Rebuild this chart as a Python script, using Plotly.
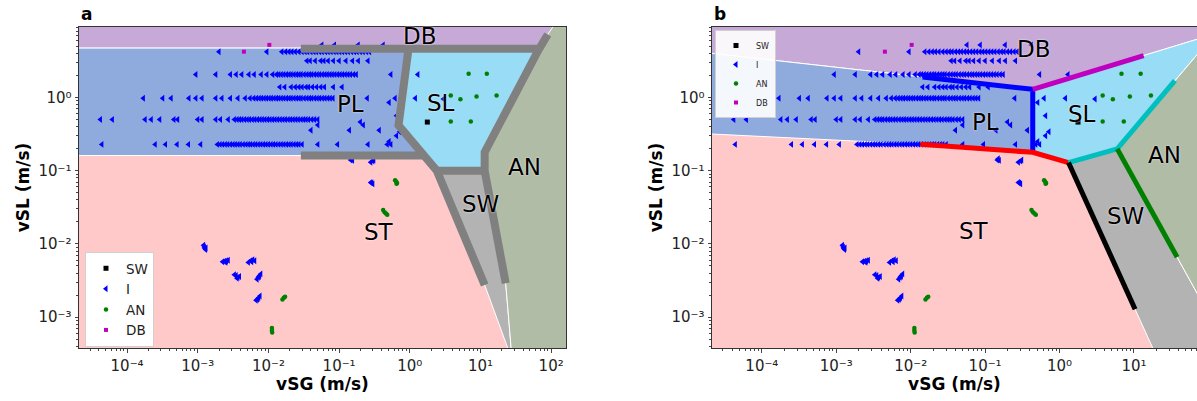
import math
import plotly.graph_objects as go

FONT = "DejaVu Sans"

# ---------------- measured points (vSG, vSL in m/s) ----------------
# intermittent ("I") points lie in rows of nearly constant vSL
i_vsl_rows = [5.2, 4.2, 3.15, 2.05, 1.38, 0.97, 0.50, 0.228]
i_vsg_r1 = [0.057, 0.086, 0.186, 0.42]
i_vsg_r2 = [2.0e-3, 9.5e-3, 0.0155, 0.0175, 0.0195, 0.0215, 0.024, 0.027, 0.030, 0.033, 0.036,
            0.040, 0.044, 0.048, 0.053, 0.058, 0.064, 0.070, 0.077, 0.085, 0.093, 0.102, 0.112,
            0.123, 0.135, 0.15, 0.165, 0.18, 0.20, 0.22, 0.245, 0.27]
i_vsg_r3 = [0.035, 0.039, 0.046, 0.055, 0.061, 0.070, 0.083, 0.10, 0.125, 0.155, 0.187, 0.256]
i_vsg_r4 = [9.4e-4, 1.8e-3, 2.9e-3, 3.5e-3, 4.2e-3, 5.3e-3, 6.3e-3, 7.9e-3, 9.5e-3, 0.0115,
            0.013, 0.014, 0.0152, 0.0165, 0.018, 0.0195, 0.021, 0.023, 0.025, 0.027, 0.029,
            0.032, 0.035, 0.038, 0.041, 0.045, 0.049, 0.053, 0.058, 0.063, 0.068, 0.074, 0.080,
            0.087, 0.095, 0.103, 0.112, 0.122, 0.133, 0.145, 0.16, 0.175, 0.54, 1.3]
i_vsg_r5 = [0.0145, 0.017, 0.021, 0.024, 0.027, 0.030, 0.034, 0.037, 0.042, 0.048, 0.055,
            0.062, 0.083, 0.11]
i_vsg_r6 = [1.7e-4, 3.2e-4, 4.2e-4, 7.5e-4, 9.4e-4, 1.15e-3, 1.8e-3, 2.2e-3, 2.9e-3, 3.7e-3,
            4.7e-3, 5.5e-3, 6.2e-3, 6.8e-3, 7.4e-3, 8.0e-3, 8.7e-3, 9.4e-3, 0.0102, 0.011,
            0.012, 0.013, 0.014, 0.0152, 0.0165, 0.018, 0.0195, 0.021, 0.023, 0.025, 0.027,
            0.029, 0.032, 0.035, 0.038, 0.041, 0.045, 0.049, 0.053, 0.058, 0.063, 0.069,
            0.075, 0.082, 0.25, 0.62, 1.2]
i_vsg_r7 = [4.2e-5, 6.2e-5, 1.8e-4, 2.2e-4, 2.9e-4, 4.6e-4, 5.2e-4, 1.0e-3, 1.15e-3, 1.8e-3,
            2.1e-3, 2.7e-3, 3.3e-3, 3.6e-3, 3.9e-3, 4.2e-3, 4.6e-3, 5.0e-3, 5.4e-3, 5.9e-3,
            6.4e-3, 7.0e-3, 7.6e-3, 8.2e-3, 8.9e-3, 9.7e-3, 0.0105, 0.0114, 0.0124, 0.0135,
            0.0147, 0.016, 0.0174, 0.019, 0.0206, 0.0224, 0.0244, 0.0265, 0.029, 0.0315,
            0.034, 0.037, 0.041, 0.045, 0.050]
i_vsg_r8 = [4.4e-5, 2.5e-4, 3.5e-4, 5.1e-4, 7.4e-4, 1.1e-3, 1.9e-3, 2.07e-3, 2.25e-3, 2.45e-3,
            2.65e-3, 2.9e-3, 3.15e-3, 3.4e-3, 3.7e-3, 4.0e-3, 4.4e-3, 4.8e-3, 5.2e-3, 5.6e-3,
            6.1e-3, 6.6e-3, 7.2e-3, 7.8e-3, 8.5e-3, 9.2e-3, 0.010, 0.0109, 0.0118, 0.0128,
            0.014, 0.0152, 0.0165, 0.018, 0.0195, 0.021, 0.023, 0.025, 0.027, 0.030, 0.050,
            0.095, 0.256, 0.48, 0.54]
i_vsg_rows = [i_vsg_r1, i_vsg_r2, i_vsg_r3, i_vsg_r4, i_vsg_r5, i_vsg_r6, i_vsg_r7, i_vsg_r8]
# scattered I points and the low-flow clusters
i_extra_vsg = [0.05, 0.2, 0.22, 0.14, 0.37, 0.65, 0.51, 0.65, 0.72, 0.51, 3.0, 0.28, 0.30,
               0.31, 0.146, 0.15, 0.155, 0.28, 0.29, 0.30, 0.04,
               1.21e-3, 1.24e-3, 1.26e-3, 1.29e-3, 1.31e-3,
               2.25e-3, 2.4e-3, 2.55e-3, 2.7e-3, 2.5e-3,
               5.2e-3, 5.6e-3, 6.0e-3, 6.4e-3, 5.8e-3,
               3.3e-3, 3.5e-3, 3.7e-3, 3.9e-3, 3.6e-3,
               6.9e-3, 7.2e-3, 7.5e-3, 7.8e-3, 7.4e-3,
               6.7e-3, 7.0e-3, 7.3e-3, 7.6e-3, 7.1e-3]
i_extra_vsl = [0.42, 0.46, 0.42, 0.355, 0.355, 0.30, 0.85, 0.56, 0.34, 0.25, 0.95, 0.13, 0.135,
               0.14, 0.14, 0.145, 0.138, 0.069, 0.068, 0.066, 0.355,
               9.6e-3, 9.1e-3, 8.7e-3, 8.4e-3, 8.8e-3,
               5.7e-3, 5.8e-3, 5.9e-3, 6.0e-3, 5.6e-3,
               5.6e-3, 5.9e-3, 6.1e-3, 5.9e-3, 5.7e-3,
               3.8e-3, 3.7e-3, 3.5e-3, 3.6e-3, 3.4e-3,
               3.3e-3, 3.5e-3, 3.7e-3, 3.9e-3, 3.6e-3,
               1.7e-3, 1.75e-3, 1.85e-3, 1.95e-3, 1.8e-3]
sw_vsg = [1.77]
sw_vsl = [0.46]
an_vsg = [6.8, 12.3, 3.8, 5.2, 8.8, 16.9, 3.8, 7.3, 0.42, 0.44, 0.46, 0.48,
          0.62, 0.64, 0.66, 0.65, 0.0158, 0.0165, 0.0172, 0.0112, 0.0112, 0.0113]
an_vsl = [2.1, 2.1, 1.06, 0.94, 1.03, 1.06, 0.47, 0.47, 0.029, 0.027, 0.026, 0.025,
          0.074, 0.071, 0.068, 0.066, 1.75e-3, 1.85e-3, 1.9e-3, 7.1e-4, 6.6e-4, 6.2e-4]
db_vsg = [0.0103, 4.5e-3]
db_vsl = [5.2, 4.2]

i_vsg = [v for row in i_vsg_rows for v in row] + i_extra_vsg
i_vsl = [y for y, row in zip(i_vsl_rows, i_vsg_rows) for _ in row] + i_extra_vsl

# ---------------- flow-regime maps: region corners (vSG, vSL in m/s) ----------------
# panel a
a_DB = [(1e-5, 30), (1e-5, 4.70), (68.7, 4.70), (243, 30)]
a_PL = [(1e-5, 4.70), (0.96, 4.70), (0.693, 0.416), (1.59, 0.1607), (1e-5, 0.1607)]
a_SL = [(0.96, 4.70), (68.7, 4.70), (65.6, 4.37), (11.46, 0.1786), (11.46, 0.1),
        (2.41, 0.1), (0.693, 0.416)]
a_SW = [(2.41, 0.1), (11.46, 0.1), (22.75, 2.904e-3), (28.05, 2.61e-4), (11.46, 2.754e-3)]
a_AN = [(243, 30), (89.5, 7.21), (65.6, 4.37), (11.46, 0.1786), (11.46, 0.1),
        (22.75, 2.904e-3), (28.05, 2.61e-4), (28.05, 1e-4), (1e3, 1e-4), (1e3, 30)]
# panel a boundary lines
a_line1 = [(0.0288, 4.62), (65.6, 4.62)]
a_line2 = [(89.5, 7.21), (65.6, 4.37), (11.46, 0.1786), (11.46, 0.1), (22.75, 2.904e-3)]
a_line3 = [(0.955, 4.47), (0.693, 0.416), (2.41, 0.1), (11.46, 2.754e-3)]
a_line4 = [(0.0288, 0.1607), (1.59, 0.1607)]
a_line5 = [(2.41, 0.1), (11.46, 0.1)]

# panel b
b_DB = [(1e-5, 30), (1e-5, 4.34), (0.4365, 1.288), (121.9, 7.345), (1e3, 30)]
b_PL = [(1e-5, 4.34), (0.4365, 1.288), (0.4365, 0.1778), (0.01349, 0.2291), (1e-5, 0.3284)]
b_SL = [(0.4365, 1.288), (121.9, 7.345), (35.48, 1.690), (5.957, 0.1982), (1.318, 0.1288),
        (0.4365, 0.1778)]
b_SW = [(1.318, 0.1288), (5.957, 0.1982), (373, 1e-4), (32.5, 1e-4)]
b_AN = [(5.957, 0.1982), (35.48, 1.690), (121.9, 7.345), (1e3, 30), (1e3, 1e-4), (373, 1e-4)]
b_blue = [(0.01445, 1.897), (0.4365, 1.288), (0.4365, 0.1778)]
b_magenta = [(0.4365, 1.288), (13.49, 3.715)]
b_red = [(0.01349, 0.2291), (0.4365, 0.1778), (1.318, 0.1288)]
b_cyan = [(1.318, 0.1288), (5.957, 0.1982), (35.48, 1.690)]
b_black = [(1.318, 0.1288), (10.35, 1.288e-3)]
b_green = [(5.957, 0.1982), (38.02, 6.607e-3)]

# region labels (vSG, vSL)
a_labels = [("DB", 1.377, 6.98), ("PL", 0.146, 0.80), ("SL", 2.8, 0.826),
            ("AN", 42.4, 0.111), ("SW", 10.0, 0.0347), ("ST", 0.3715, 0.01462)]
b_labels = [("DB", 0.452, 4.5), ("PL", 0.102, 0.457), ("SL", 2.0, 0.596),
            ("AN", 26.0, 0.162), ("ST", 0.0718, 0.01514), ("SW", 7.76, 0.024)]

# axis ticks
x_tickvals = [1e-4, 1e-3, 1e-2, 1e-1, 1, 10, 100]
x_ticktext = ["10\u207b\u2074", "10\u207b\u00b3", "10\u207b\u00b2", "10\u207b\u00b9",
              "10\u2070", "10\u00b9", "10\u00b2"]
y_tickvals = [1e-3, 1e-2, 1e-1, 1]
y_ticktext = ["10\u207b\u00b3", "10\u207b\u00b2", "10\u207b\u00b9", "10\u2070"]
minor_vals = [m * 10 ** e for e in range(-6, 3) for m in range(2, 10)]

C_DB, C_PL, C_SL = "#C6A9D7", "#8FAADC", "#99DCF5"
C_AN, C_SW, C_ST = "#B0BCA5", "#B3B3B3", "#FFC9C9"

fig = go.Figure()


def region(pts, color, xa, ya):
    p = pts + [pts[0]]
    fig.add_trace(go.Scatter(x=[q[0] for q in p], y=[q[1] for q in p], mode="lines",
                             fill="toself", fillcolor=color,
                             line=dict(color="white", width=1), hoverinfo="skip",
                             showlegend=False, xaxis=xa, yaxis=ya))


def bound(pts, color, width, xa, ya):
    fig.add_trace(go.Scatter(x=[q[0] for q in pts], y=[q[1] for q in pts], mode="lines",
                             line=dict(color=color, width=width), hoverinfo="skip",
                             showlegend=False, xaxis=xa, yaxis=ya))


def points(xa, ya, leg):
    fig.add_trace(go.Scatter(x=sw_vsg, y=sw_vsl, mode="markers", name="SW",
                             marker=dict(symbol="square", size=5, color="black"),
                             xaxis=xa, yaxis=ya, legend=leg))
    fig.add_trace(go.Scatter(x=i_vsg, y=i_vsl, mode="markers", name="I",
                             marker=dict(symbol="triangle-left", size=6, color="#0000FF"),
                             xaxis=xa, yaxis=ya, legend=leg))
    fig.add_trace(go.Scatter(x=an_vsg, y=an_vsl, mode="markers", name="AN",
                             marker=dict(symbol="circle", size=4.5, color="#008000"),
                             xaxis=xa, yaxis=ya, legend=leg))
    fig.add_trace(go.Scatter(x=db_vsg, y=db_vsl, mode="markers", name="DB",
                             marker=dict(symbol="square", size=4, color="#BF00BF"),
                             xaxis=xa, yaxis=ya, legend=leg))


# panel a
for pts, col in [(a_DB, C_DB), (a_PL, C_PL), (a_SL, C_SL), (a_SW, C_SW), (a_AN, C_AN)]:
    region(pts, col, "x", "y")
points("x", "y", "legend")
for ln in [a_line1, a_line2, a_line3, a_line4, a_line5]:
    bound(ln, "#808080", 8, "x", "y")

# panel b
for pts, col in [(b_DB, C_DB), (b_PL, C_PL), (b_SL, C_SL), (b_SW, C_SW), (b_AN, C_AN)]:
    region(pts, col, "x2", "y2")
points("x2", "y2", "legend2")
for ln, col in [(b_blue, "#0000FF"), (b_magenta, "#BF00BF"), (b_red, "#FF0000"),
                (b_cyan, "#00BFBF"), (b_black, "#000000"), (b_green, "#008000")]:
    bound(ln, col, 5, "x2", "y2")

label_font = dict(family=FONT, size=23, color="black", shadow="0px 0px 2px white")
annotations = []
for txt, xv, yv in a_labels:
    annotations.append(dict(text=txt, x=math.log10(xv), y=math.log10(yv), xref="x", yref="y",
                            showarrow=False, font=label_font))
for txt, xv, yv in b_labels:
    annotations.append(dict(text=txt, x=math.log10(xv), y=math.log10(yv), xref="x2", yref="y2",
                            showarrow=False, font=label_font))
annotations.append(dict(text="<b>a</b>", x=79 / 1197, y=1 - 14 / 401, xref="paper",
                        yref="paper", xanchor="left", yanchor="middle", showarrow=False,
                        font=dict(family=FONT, size=17, color="black")))
annotations.append(dict(text="<b>b</b>", x=712 / 1197, y=1 - 14 / 401, xref="paper",
                        yref="paper", xanchor="left", yanchor="middle", showarrow=False,
                        font=dict(family=FONT, size=17, color="black")))

tickfont = dict(family=FONT, size=15, color="#222")
minor = dict(tickmode="array", tickvals=minor_vals, ticks="outside", ticklen=2,
             tickcolor="#444", showgrid=False)
common_x = dict(type="log", tickmode="array", tickvals=x_tickvals, ticktext=x_ticktext,
                ticks="outside", ticklen=3.5, tickcolor="#444", showline=True,
                linecolor="#333", linewidth=1, mirror=True, showgrid=False, zeroline=False,
                tickfont=tickfont, minor=minor,
                title=dict(text="<b>vSG (m/s)</b>", font=dict(family=FONT, size=17,
                                                              color="black"), standoff=4))
common_y = dict(type="log", tickmode="array", tickvals=y_tickvals, ticktext=y_ticktext,
                ticks="outside", ticklen=3.5, tickcolor="#444", showline=True,
                linecolor="#333", linewidth=1, showgrid=False, zeroline=False,
                tickfont=tickfont, minor=minor, range=[-3.42, 0.96],
                domain=[1 - 348 / 401, 1 - 27 / 401],
                title=dict(text="<b>vSL (m/s)</b>", font=dict(family=FONT, size=17,
                                                              color="black"), standoff=4))

fig.update_layout(
    width=1197, height=401, margin=dict(l=0, r=0, t=0, b=0),
    paper_bgcolor="white", plot_bgcolor=C_ST,
    font=dict(family=FONT, size=13, color="#222"),
    xaxis=dict(common_x, domain=[79 / 1197, 566 / 1197], range=[-4.68, 2.21], anchor="y"),
    yaxis=dict(common_y, anchor="x", mirror=True),
    xaxis2=dict(common_x, domain=[712 / 1197, 1.0], range=[-4.67, 1.847], anchor="y2"),
    yaxis2=dict(common_y, anchor="x2", mirror=False),
    legend=dict(x=85 / 1197, y=1 - 252 / 401, xanchor="left", yanchor="top",
                bgcolor="white", bordercolor="#D0D0D0", borderwidth=1,
                font=dict(family=FONT, size=13.5, color="#222")),
    legend2=dict(x=715 / 1197, y=1 - 30 / 401, xanchor="left", yanchor="top",
                 bgcolor="rgba(255,255,255,0.9)", bordercolor="#D0D0D0", borderwidth=1,
                 font=dict(family=FONT, size=8, color="#222")),
    annotations=annotations,
    showlegend=True,
)

fig.write_html("out.html", config={"displayModeBar": False},
               post_script="document.body.style.margin='0';"
                           "document.body.style.overflow='hidden';")
